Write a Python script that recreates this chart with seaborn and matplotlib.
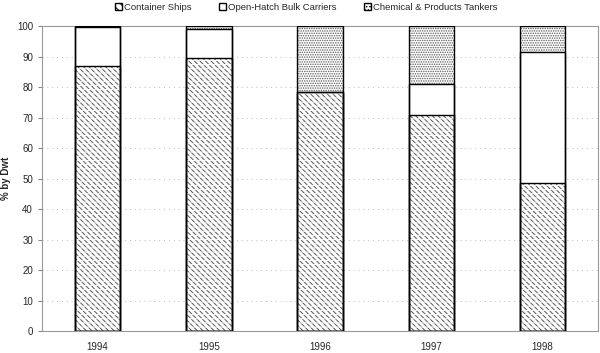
import pandas as pd
import matplotlib.pyplot as plt
import seaborn as sns
from matplotlib.patches import Patch

years = ['1994', '1995', '1996', '1997', '1998']
container = [86.8, 89.5, 78.4, 70.8, 48.5]
open_hatch = [13.0, 9.5, 0.0, 10.2, 43.0]
chemical = [0.2, 1.0, 21.6, 19.0, 8.5]

df = pd.DataFrame({'Year': years, 'Container': container,
                   'OpenHatch': open_hatch, 'Chemical': chemical})
df['Level1'] = df['Container']
df['Level2'] = df['Container'] + df['OpenHatch']
df['Level3'] = df['Level2'] + df['Chemical']

sns.set_style('white')
plt.rcParams['font.family'] = ['Liberation Sans', 'DejaVu Sans']
plt.rcParams['hatch.linewidth'] = 0.7

fig = plt.figure(figsize=(6.0, 3.53), dpi=100)
ax = fig.add_axes([0.07, 0.062, 0.927, 0.864])

W = 0.41
DIAG = '\\' * 6
DOTS = '.' * 7

# fill layers, largest first
sns.barplot(data=df, x='Year', y='Level3', color='white', width=W, ax=ax,
            hatch=DOTS, edgecolor='#5a5a5a', linewidth=0, saturation=1, zorder=2)
sns.barplot(data=df, x='Year', y='Level2', color='white', width=W, ax=ax,
            edgecolor='white', linewidth=0, saturation=1, zorder=2)
sns.barplot(data=df, x='Year', y='Level1', color='white', width=W, ax=ax,
            hatch=DIAG, edgecolor='#555555', linewidth=0, saturation=1, zorder=2)
# white gaps splitting the diagonal strokes into rows
sns.barplot(data=df, x='Year', y='Level1', fill=False, color='white', width=W, ax=ax,
            hatch='----', linewidth=0, zorder=2)

# black outlines of each segment
for col in ['Level3', 'Level2', 'Level1']:
    sns.barplot(data=df, x='Year', y=col, fill=False, color='black', width=W,
                ax=ax, linewidth=1.0, zorder=3)

ax.set_ylim(0, 100)
ax.set_xlim(-0.5, 4.5)
ax.set_yticks(range(0, 101, 10))
ax.yaxis.grid(True, linestyle=(0, (1, 4)), color='#bbbbbb', linewidth=0.7, zorder=0)
ax.set_axisbelow(True)
ax.set_xlabel('')
ax.set_ylabel('% by Dwt', fontsize=7, fontweight='bold', labelpad=4)
ax.set_xticks([-0.5, 0.5, 1.5, 2.5, 3.5, 4.5], minor=True)
ax.tick_params(axis='x', which='major', length=0, labelsize=7, pad=8)
ax.tick_params(axis='x', which='minor', length=3, color='#888888', direction='out')
ax.tick_params(axis='y', length=3, labelsize=7, color='#888888', direction='out', left=True)
for s in ax.spines.values():
    s.set_color('#999999')
    s.set_linewidth(0.8)

handles = [
    Patch(facecolor='white', edgecolor='black', hatch='\\\\\\\\', label='Container Ships'),
    Patch(facecolor='white', edgecolor='black', label='Open-Hatch Bulk Carriers'),
    Patch(facecolor='white', edgecolor='black', hatch='.....', label='Chemical & Products Tankers'),
]
fig.legend(handles=handles, loc='upper center', bbox_to_anchor=(0.51, 1.015), ncol=3,
           frameon=False, fontsize=6.8, handlelength=0.75, handleheight=0.75,
           handletextpad=0.2, columnspacing=2.9)

plt.savefig('out.png', dpi=100)
plt.close()
